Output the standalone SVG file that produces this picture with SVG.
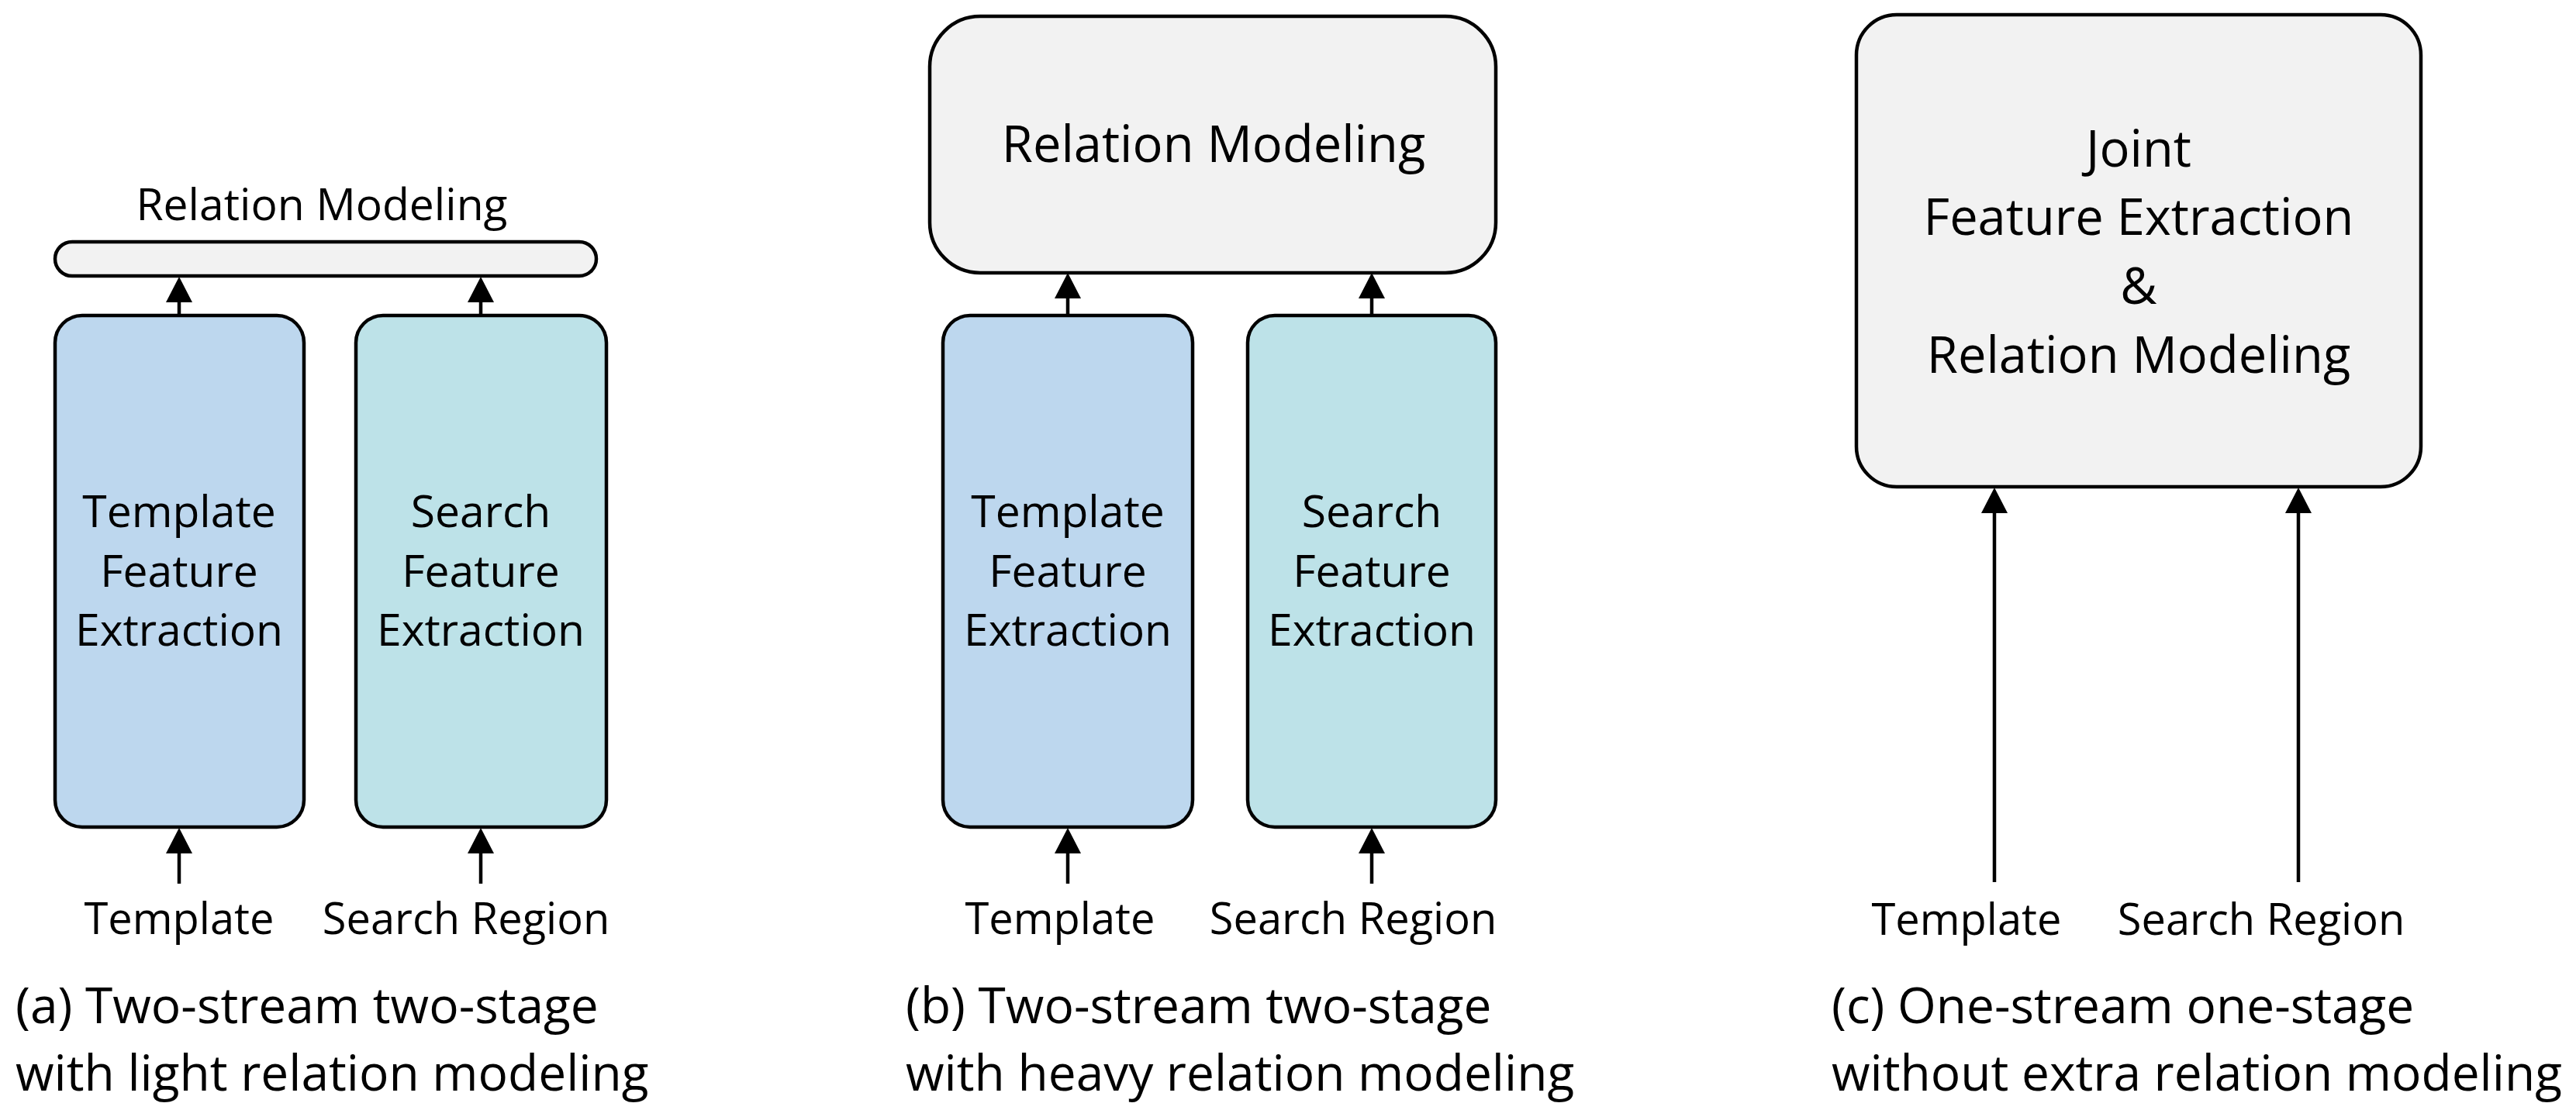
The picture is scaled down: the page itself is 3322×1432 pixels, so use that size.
<svg xmlns="http://www.w3.org/2000/svg" width="3322" height="1432" viewBox="0 0 3322 1432">
<style>
  text { font-family: "Open Sans", "Liberation Sans", sans-serif; fill: #000; }
  .box { stroke: #000; stroke-width: 4.5; }
  .gray { fill: #F2F2F2; }
  .blue { fill: #BDD7EE; }
  .teal { fill: #BDE2E8; }
  .lbl { font-size: 56px; text-anchor: middle; }
  .in { font-size: 57px; text-anchor: middle; }
  .big { font-size: 65px; text-anchor: middle; }
  .cap { font-size: 64px; }
  .arr { stroke: #000; stroke-width: 4.5; fill: none; marker-end: url(#ah); }
</style>
<defs>
  <marker id="ah" markerUnits="userSpaceOnUse" viewBox="0 0 33 34" refX="0" refY="17" markerWidth="33" markerHeight="34" orient="auto">
    <path d="M0,0 L33,17 L0,34 z" fill="#000"/>
  </marker>
</defs>
<rect width="3322" height="1432" fill="#fff"/>

<!-- Panel (a) -->
<g id="a-relation">
  <rect class="box gray" x="71" y="312" width="698" height="44" rx="22"/>
  <text class="in" x="415" y="284">Relation Modeling</text>
</g>
<g id="a-template-fe">
  <rect class="box blue" x="71" y="407" width="321" height="660" rx="35"/>
  <text class="in" x="231" y="680">Template</text>
  <text class="in" x="231" y="757">Feature</text>
  <text class="in" x="231" y="833">Extraction</text>
</g>
<g id="a-search-fe">
  <rect class="box teal" x="459" y="407" width="323" height="660" rx="35"/>
  <text class="in" x="620" y="680">Search</text>
  <text class="in" x="620" y="757">Feature</text>
  <text class="in" x="620" y="833">Extraction</text>
</g>
<g id="a-template-in"><text class="lbl" x="231" y="1205">Template</text></g>
<g id="a-search-in"><text class="lbl" x="601" y="1205">Search Region</text></g>
<g id="a-caption">
  <text class="cap" x="20" y="1320">(a) Two-stream two-stage</text>
  <text class="cap" x="20" y="1407">with light relation modeling</text>
</g>

<!-- Panel (b) -->
<g id="b-relation">
  <rect class="box gray" x="1199" y="21" width="730" height="331" rx="65"/>
  <text class="big" x="1565" y="209">Relation Modeling</text>
</g>
<g id="b-template-fe">
  <rect class="box blue" x="1216" y="407" width="322" height="660" rx="35"/>
  <text class="in" x="1377" y="680">Template</text>
  <text class="in" x="1377" y="757">Feature</text>
  <text class="in" x="1377" y="833">Extraction</text>
</g>
<g id="b-search-fe">
  <rect class="box teal" x="1609" y="407" width="320" height="660" rx="35"/>
  <text class="in" x="1769" y="680">Search</text>
  <text class="in" x="1769" y="757">Feature</text>
  <text class="in" x="1769" y="833">Extraction</text>
</g>
<g id="b-template-in"><text class="lbl" x="1367" y="1205">Template</text></g>
<g id="b-search-in"><text class="lbl" x="1745" y="1205">Search Region</text></g>
<g id="b-caption">
  <text class="cap" x="1168" y="1320">(b) Two-stream two-stage</text>
  <text class="cap" x="1168" y="1407">with heavy relation modeling</text>
</g>

<!-- Panel (c) -->
<g id="c-joint">
  <rect class="box gray" x="2394" y="19" width="728" height="609" rx="52"/>
  <text class="big" x="2758" y="215">Joint</text>
  <text class="big" x="2758" y="303">Feature Extraction</text>
  <text class="big" x="2758" y="392">&amp;</text>
  <text class="big" x="2758" y="481">Relation Modeling</text>
</g>
<g id="c-template-in"><text class="lbl" x="2536" y="1206">Template</text></g>
<g id="c-search-in"><text class="lbl" x="2916" y="1206">Search Region</text></g>
<g id="c-caption">
  <text class="cap" x="2362" y="1320">(c) One-stream one-stage</text>
  <text class="cap" x="2362" y="1407">without extra relation modeling</text>
</g>

<g id="connectors">
  <line class="arr" x1="231" y1="407" x2="231" y2="390"/>
  <line class="arr" x1="620" y1="407" x2="620" y2="390"/>
  <line class="arr" x1="231" y1="1140" x2="231" y2="1101"/>
  <line class="arr" x1="620" y1="1140" x2="620" y2="1101"/>
  <line class="arr" x1="1377" y1="407" x2="1377" y2="385"/>
  <line class="arr" x1="1769" y1="407" x2="1769" y2="385"/>
  <line class="arr" x1="1377" y1="1140" x2="1377" y2="1101"/>
  <line class="arr" x1="1769" y1="1140" x2="1769" y2="1101"/>
  <line class="arr" x1="2572" y1="1138" x2="2572" y2="662"/>
  <line class="arr" x1="2964" y1="1138" x2="2964" y2="662"/>
</g>
</svg>
